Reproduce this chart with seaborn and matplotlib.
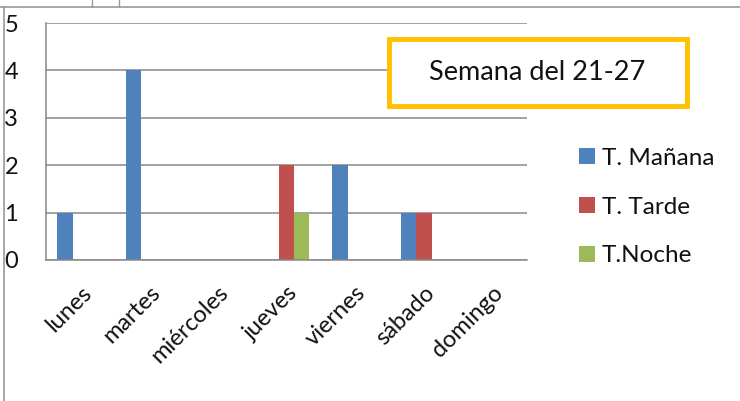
import matplotlib
matplotlib.use('Agg')
import matplotlib.pyplot as plt
from matplotlib.lines import Line2D
from matplotlib.patches import Rectangle, Patch
import numpy as np
import pandas as pd
import seaborn as sns

dias = ['lunes', 'martes', 'miércoles', 'jueves', 'viernes', 'sábado', 'domingo']
turnos = ['T. Mañana', 'T. Tarde', 'T.Noche']
manana = [1, 4, 0, 0, 2, 1, 0]
tarde = [0, 0, 0, 2, 0, 1, 0]
noche = [0, 0, 0, 1, 0, 0, 0]
colores = ['#4F81BD', '#C0504D', '#9BBB59']

df = pd.DataFrame({
    'dia': dias * 3,
    'turno': [turnos[0]] * 7 + [turnos[1]] * 7 + [turnos[2]] * 7,
    'valor': manana + tarde + noche,
})

sns.set_style('white')
plt.rcParams['font.family'] = ['Lato', 'DejaVu Sans']
plt.rcParams['text.color'] = '#111111'
plt.rcParams['xtick.labelcolor'] = '#111111'
plt.rcParams['ytick.labelcolor'] = '#111111'

fig = plt.figure(figsize=(7.4, 4.01), dpi=100)
ax = fig.add_axes([46 / 740, 1 - 260 / 401, (527 - 46) / 740, (260 - 23) / 401])

sns.barplot(data=df, x='dia', y='valor', hue='turno', order=dias, hue_order=turnos,
            palette=colores, width=0.667, gap=0, saturation=1, ax=ax, legend=False,
            linewidth=0)

grid_c = '#888888'
ax.set_xlim(-0.5, 6.5)
ax.set_ylim(0, 5)
ax.set_yticks(range(6))
ax.yaxis.grid(True, color=grid_c, lw=1.1)
ax.set_axisbelow(True)
ax.tick_params(axis='y', length=8, color=grid_c, width=1.1, labelsize=17, pad=12)
ax.set_xticks(np.arange(-0.5, 7, 1), minor=True)
ax.tick_params(axis='x', which='minor', length=8, color=grid_c, width=1.1)
ax.tick_params(axis='x', which='major', length=0, labelsize=17, pad=16)
for lbl in ax.get_xticklabels():
    lbl.set_rotation(45)
    lbl.set_ha('right')
    lbl.set_rotation_mode('anchor')
ax.set_xlabel('')
ax.set_ylabel('')
for s in ['top', 'right']:
    ax.spines[s].set_visible(False)
for s in ['left', 'bottom']:
    ax.spines[s].set_color(grid_c)
    ax.spines[s].set_linewidth(1.1)

# title box
fig.patches.append(Rectangle((389 / 740, 1 - 106 / 401), 298 / 740, 67 / 401,
                             transform=fig.transFigure, facecolor='white',
                             edgecolor='#FFC000', lw=3.5, zorder=5))
fig.text(537 / 740, 1 - 73 / 401, 'Semana del 21-27', ha='center', va='center',
         fontsize=19.5, zorder=6)

handles = [Patch(facecolor=c, edgecolor='none') for c in colores]
fig.legend(handles, turnos, loc='center left', bbox_to_anchor=(557 / 740, 1 - 207 / 401),
           frameon=False, fontsize=17.5, handlelength=0.65, handleheight=0.65,
           handletextpad=0.3, labelspacing=1.15)

# spreadsheet cell borders
cell_c = '#999999'
fig.add_artist(Line2D([0, 1], [1 - 6.5 / 401] * 2, transform=fig.transFigure, color=cell_c, lw=1.2))
fig.add_artist(Line2D([4 / 740] * 2, [0, 1 - 6.5 / 401], transform=fig.transFigure, color=cell_c, lw=1.2))
fig.add_artist(Line2D([92 / 740] * 2, [1 - 6.5 / 401, 1], transform=fig.transFigure, color=cell_c, lw=1.0))
fig.add_artist(Line2D([119 / 740] * 2, [1 - 6.5 / 401, 1], transform=fig.transFigure, color=cell_c, lw=1.0))

fig.savefig('out.png', dpi=100)
